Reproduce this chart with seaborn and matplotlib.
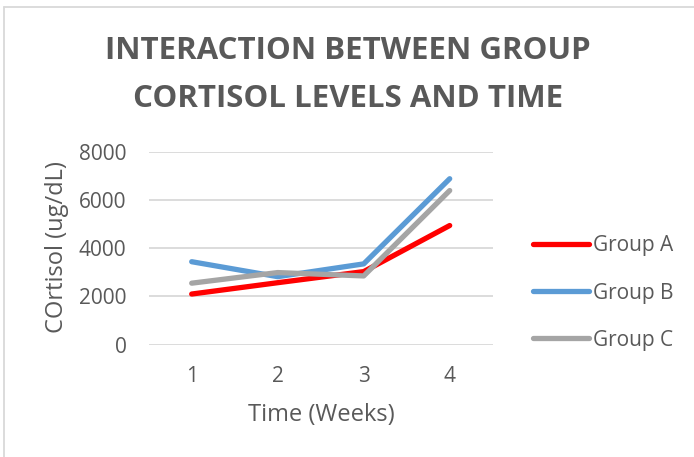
import matplotlib
matplotlib.use("Agg")
import matplotlib.pyplot as plt
import seaborn as sns
import pandas as pd
from matplotlib.lines import Line2D

weeks = [1, 2, 3, 4]
group_a = [2100, 2570, 3030, 4940]
group_b = [3440, 2820, 3350, 6880]
group_c = [2550, 2990, 2850, 6390]
groups = ["Group A", "Group B", "Group C"]
colors = ["#FF0000", "#5B9BD5", "#A5A5A5"]
yticks = [0, 2000, 4000, 6000, 8000]

df = pd.DataFrame({
    "Week": weeks * 3,
    "Cortisol": group_a + group_b + group_c,
    "Group": [g for g in groups for _ in weeks],
})

sns.set_theme(style="white")
plt.rcParams["font.family"] = ["Open Sans", "DejaVu Sans"]
txt = "#595959"
grid = "#D9D9D9"

W, H = 694, 457
fig = plt.figure(figsize=(W / 100, H / 100), dpi=100)
ax = fig.add_axes([148.7 / W, 1 - 344.7 / H, 344 / W, 193 / H])

sns.lineplot(data=df, x="Week", y="Cortisol", hue="Group", palette=colors,
             linewidth=3.8, ax=ax, legend=False, solid_capstyle="round")

ax.set_xlim(0.5, 4.5)
ax.set_ylim(0, 8000)
ax.set_yticks(yticks)
ax.set_yticklabels([str(v) for v in yticks])
ax.set_xticks(weeks)
ax.set_xticklabels([str(w) for w in weeks])
ax.tick_params(axis="both", length=0, labelsize=15, labelcolor=txt)
ax.tick_params(axis="y", pad=16)
ax.tick_params(axis="x", pad=15)
for s in ax.spines.values():
    s.set_visible(False)
ax.yaxis.grid(True, color=grid, linewidth=1.3)
ax.xaxis.grid(False)
ax.set_axisbelow(True)

ax.set_xlabel("Time (Weeks)", fontsize=17, color=txt, va="center")
ax.set_ylabel("COrtisol (ug/dL)", fontsize=17, color=txt, va="center")
ax.xaxis.set_label_coords((321 - 148.7) / 344, (344.7 - 415) / 193)
ax.yaxis.set_label_coords((57 - 148.7) / 344, (344.7 - 247.5) / 193)

fig.text(348 / W, 1 - 51 / H, "INTERACTION BETWEEN GROUP", ha="center", va="center",
         fontsize=22.5, fontweight="bold", color=txt)
fig.text(348 / W, 1 - 99 / H, "CORTISOL LEVELS AND TIME", ha="center", va="center",
         fontsize=22.5, fontweight="bold", color=txt)

handles = [Line2D([0], [0], color=c, linewidth=3.8, solid_capstyle="round") for c in colors]
leg = fig.legend(handles, groups, loc="center left", bbox_to_anchor=(533 / W, 1 - 293 / H),
                 frameon=False, fontsize=15, handlelength=2.7, handletextpad=0.2,
                 labelspacing=1.25, borderpad=0, borderaxespad=0)
for t in leg.get_texts():
    t.set_color(txt)

# chart border (partially visible)
fig.add_artist(Line2D([4 / W, 4 / W], [0, 1 - 7 / H], color=grid, linewidth=1.3))
fig.add_artist(Line2D([4 / W, 1], [1 - 7 / H, 1 - 7 / H], color=grid, linewidth=1.3))

fig.savefig("out.png", dpi=100)
